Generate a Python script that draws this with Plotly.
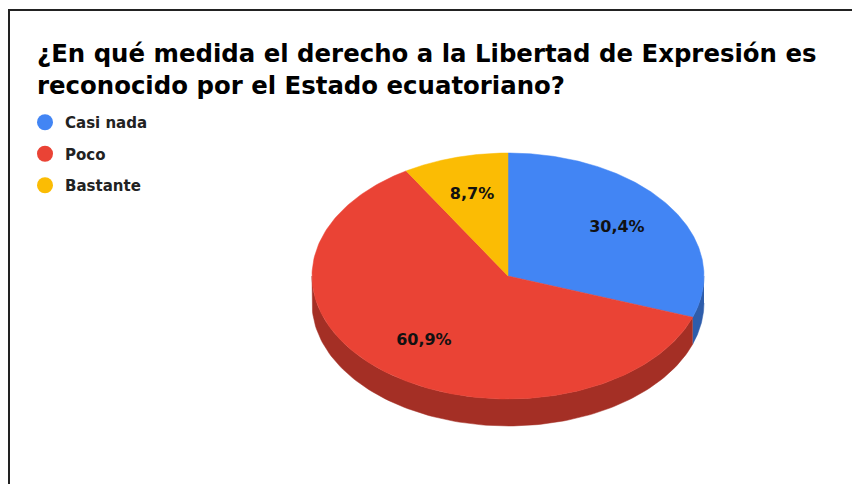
import numpy as np
import plotly.graph_objects as go

# Data (responses: 7, 14, 2 of 23)
labels = ["Casi nada", "Poco", "Bastante"]
counts = [7, 14, 2]
colors = ["#4285f4", "#ea4335", "#fbbc04"]
side_colors = ["#2e5dab", "#a42f25", "#b08403"]

title = ("¿En qué medida el derecho a la Libertad de Expresión es<br>"
         "reconocido por el Estado ecuatoriano?")

# Page body adds an 8px offset, so the axes are set up in screen pixels
W, H = 860, 484
OFF = 8
cx, cy = 508, 276
rx, ry = 196, 123
depth = 27
FONT = "DejaVu Sans, Liberation Sans, Arial"


def pt(theta, dy=0.0):
    # theta measured clockwise from 12 o'clock
    return cx + rx * np.sin(theta), cy - ry * np.cos(theta) + dy


total = sum(counts)
fracs = [c / total for c in counts]
starts = np.cumsum([0] + fracs[:-1]) * 2 * np.pi
ends = np.cumsum(fracs) * 2 * np.pi

fig = go.Figure()

# Side walls (only the front half is visible)
for s, e, col in zip(starts, ends, side_colors):
    a, b = max(s, np.pi / 2), min(e, 3 * np.pi / 2)
    if b <= a:
        continue
    t = np.linspace(a, b, 120)
    xt, yt = pt(t)
    xb, yb = pt(t[::-1], depth)
    fig.add_trace(go.Scatter(
        x=np.concatenate([xt, xb]), y=np.concatenate([yt, yb]),
        fill="toself", fillcolor=col, mode="lines",
        line=dict(width=0.5, color=col), hoverinfo="skip", showlegend=False))

# Top faces
for s, e, col, lab in zip(starts, ends, colors, labels):
    t = np.linspace(s, e, 200)
    xs, ys = pt(t)
    fig.add_trace(go.Scatter(
        x=np.concatenate([[cx], xs, [cx]]), y=np.concatenate([[cy], ys, [cy]]),
        fill="toself", fillcolor=col, mode="lines",
        line=dict(width=0.5, color=col), name=lab, hoverinfo="skip",
        showlegend=False))

# Percentage labels
mids = (starts + ends) / 2
lx = cx + 0.68 * rx * np.sin(mids)
ly = cy - 0.68 * ry * np.cos(mids)
texts = [f"{f * 100:.1f}%".replace(".", ",") for f in fracs]
fig.add_trace(go.Scatter(
    x=lx, y=ly, mode="text", text=texts,
    textfont=dict(family=FONT, size=16, color="#111111", weight="bold"),
    hoverinfo="skip", showlegend=False))

# Legend entries (circles)
for i, (lab, col) in enumerate(zip(labels, colors)):
    fig.add_trace(go.Scatter(
        x=[None], y=[None], mode="markers", name=lab, legendgroup=str(i),
        marker=dict(symbol="circle", size=17, color=col)))

# Frame around the chart
fig.add_shape(type="path", xref="x", yref="y",
              path=f"M 9 {H + OFF} L 9 10 L {W + OFF} 10",
              line=dict(color="#222222", width=2))

fig.update_layout(
    width=W, height=H,
    margin=dict(l=0, r=0, t=0, b=0),
    paper_bgcolor="white", plot_bgcolor="white",
    title=dict(text=title, x=(37 - OFF) / W, xanchor="left",
               y=1 - 54 / H, yanchor="top",
               font=dict(family=FONT, size=24.4, color="#000000",
                         weight="bold")),
    legend=dict(x=17 / W, xanchor="left", y=1 - 98 / H, yanchor="top",
                font=dict(family=FONT, size=15, color="#222222",
                          weight="bold"),
                tracegroupgap=9, bgcolor="rgba(0,0,0,0)"),
    xaxis=dict(range=[OFF, W + OFF], visible=False, fixedrange=True),
    yaxis=dict(range=[H + OFF, OFF], visible=False, fixedrange=True),
    showlegend=True,
)

fig.write_html("out.html")
